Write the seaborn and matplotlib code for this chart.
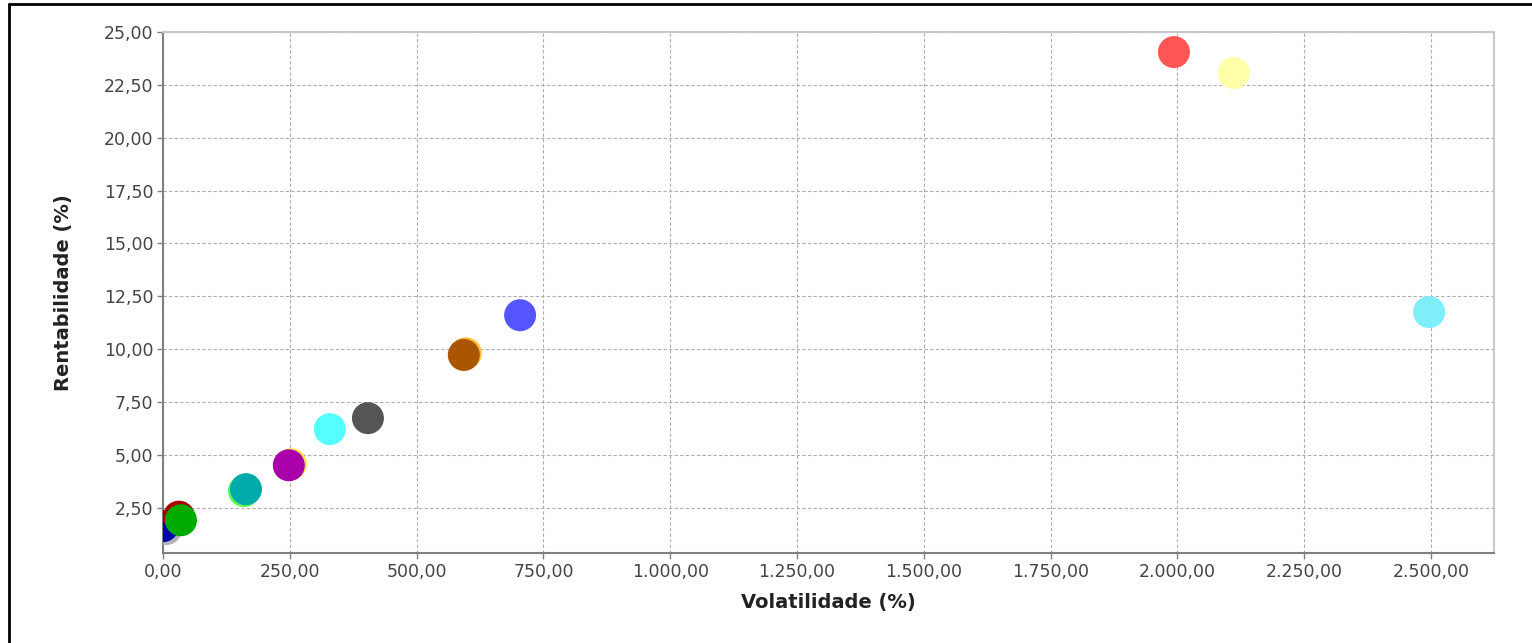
import numpy as np
import pandas as pd
import matplotlib
matplotlib.use("Agg")
import matplotlib.pyplot as plt
from matplotlib.lines import Line2D
from matplotlib.ticker import FuncFormatter, MultipleLocator
import seaborn as sns

# --- Dados ---
series = ["s01", "s02", "s03", "s04", "s05", "s06", "s07", "s08",
          "s09", "s10", "s11", "s12", "s13", "s14", "s15", "s16"]
volatilidade = [6, 0, 31.5, 35.5, 159.7, 163.6, 252, 248,
                329, 404, 597, 593, 704, 1993, 2111, 2496]
rentabilidade = [1.48, 1.62, 2.07, 1.90, 3.28, 3.37, 4.55, 4.50,
                 6.21, 6.73, 9.80, 9.72, 11.60, 24.05, 23.06, 11.75]
cores = ["#B4B4B4", "#0000AA", "#AA0000", "#00AA00", "#55FF55", "#00AAAA",
         "#FFE040", "#AA00AA", "#55FFFF", "#555555", "#FFC040", "#AA5500",
         "#5555FF", "#FF5555", "#FFFFAA", "#7EEEF8"]

df = pd.DataFrame({"serie": series, "vol": volatilidade, "rent": rentabilidade})


def fmt_br(v, pos):
    s = f"{v:,.2f}"
    return s.replace(",", "X").replace(".", ",").replace("X", ".")


sns.set_style("white")
plt.rcParams["font.family"] = ["DejaVu Sans"]

fig = plt.figure(figsize=(15.32, 6.43), dpi=100)
ax = fig.add_axes([163 / 1532, 90 / 643, (1494 - 163) / 1532, (553 - 32) / 643])

sns.scatterplot(data=df, x="vol", y="rent", hue="serie",
                palette=dict(zip(series, cores)), s=530, linewidth=0,
                alpha=1, legend=False, ax=ax, zorder=3)

ax.set_xlim(0, 2624)
ax.set_ylim(0.35, 25)
ax.xaxis.set_major_locator(MultipleLocator(250))
ax.xaxis.set_major_formatter(FuncFormatter(fmt_br))
ax.yaxis.set_major_formatter(FuncFormatter(fmt_br))
ax.set_yticks([t for t in np.arange(2.5, 25.01, 2.5)])

ax.grid(True, color="#ADADAD", linestyle=(0, (3, 2)), linewidth=0.8)
ax.set_axisbelow(True)

for side in ["left", "bottom"]:
    ax.spines[side].set_color("#808080")
    ax.spines[side].set_linewidth(1.5)
for side in ["top", "right"]:
    ax.spines[side].set_color("#C8C8C8")
    ax.spines[side].set_linewidth(1.5)

ax.tick_params(axis="both", which="major", direction="out", length=4,
               width=1, color="#808080", labelsize=12.5, labelcolor="#444444",
               bottom=True, left=True, pad=3)

ax.set_xlabel("Volatilidade (%)", fontsize=14, fontweight="bold",
              color="#222222", labelpad=9)
ax.set_ylabel("Rentabilidade (%)", fontsize=14, fontweight="bold",
              color="#222222", labelpad=22)

# moldura do painel (esquerda e topo)
fig.add_artist(Line2D([9 / 1532, 9 / 1532], [0, 1 - 4 / 643],
                      transform=fig.transFigure, color="black", linewidth=2))
fig.add_artist(Line2D([9 / 1532, 1], [1 - 4 / 643, 1 - 4 / 643],
                      transform=fig.transFigure, color="black", linewidth=2))

fig.savefig("out.png", dpi=100)
